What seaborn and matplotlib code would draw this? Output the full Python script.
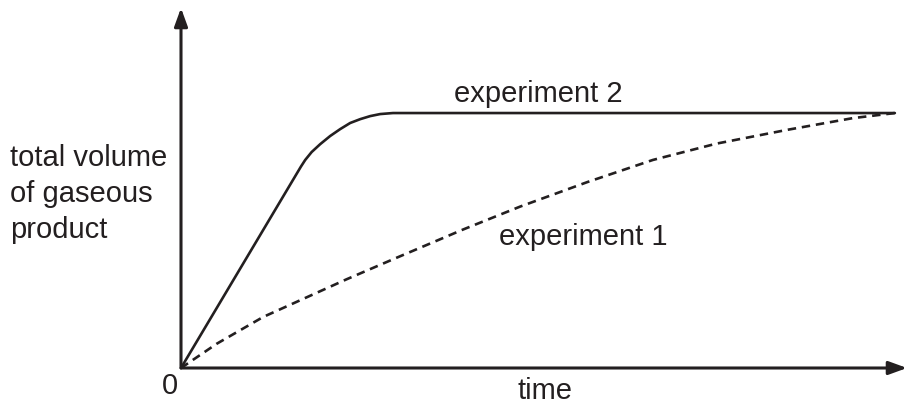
import pandas as pd
import matplotlib
matplotlib.use("Agg")
import matplotlib.pyplot as plt
import seaborn as sns

# values (arbitrary units, 0-100)
exp1_time = [0, 5, 11.5, 23.2, 30, 39.5, 47.5, 57, 66.1, 75, 84.9, 94.1, 100]
exp1_volume = [0, 9.5, 20, 34.8, 43, 54.3, 63.3, 73, 81.6, 88, 93.4, 98, 100]

exp2_time = [0, 16.8, 17.4, 18.3, 19.5, 20.9, 22.3, 23.7, 25.1, 26.5, 27.9, 29.7, 100]
exp2_volume = [0, 79, 81.6, 84.7, 87.8, 91.0, 93.7, 96.1, 97.6, 98.8, 99.6, 100, 100]

ink = "#231f20"

df = pd.concat([
    pd.DataFrame({"time": exp1_time, "volume": exp1_volume, "run": "experiment 1"}),
    pd.DataFrame({"time": exp2_time, "volume": exp2_volume, "run": "experiment 2"}),
], ignore_index=True)

sns.set_style("white")
plt.rcParams["font.family"] = ["Liberation Sans", "DejaVu Sans"]

fig = plt.figure(figsize=(9.07, 4.05), dpi=100)
ax = fig.add_axes([181 / 907, 37 / 405, 726 / 907, 360 / 405])

sns.lineplot(
    data=df, x="time", y="volume", style="run",
    dashes={"experiment 1": (3.2, 2.2), "experiment 2": ""},
    color=ink, linewidth=1.9, sort=False, estimator=None,
    legend=False, ax=ax,
)

ax.set_xlim(0, 101.7)
ax.set_ylim(0, 141.2)
ax.set_xticks([])
ax.set_yticks([])
ax.set_xlabel("")
ax.set_ylabel("")
for s in ax.spines.values():
    s.set_visible(False)

# axes drawn as arrows
arrow = dict(arrowstyle="-|>,head_length=1.1,head_width=0.4", color=ink,
             lw=2.2, shrinkA=0, shrinkB=0)
ax.annotate("", xy=(1, 0), xytext=(0, 0), xycoords="axes fraction",
            textcoords="axes fraction", arrowprops=arrow, annotation_clip=False)
ax.annotate("", xy=(0, 1), xytext=(0, 0), xycoords="axes fraction",
            textcoords="axes fraction", arrowprops=arrow, annotation_clip=False)

fs = 21
ax.text(50.0, 107.5, "experiment 2", fontsize=fs, color=ink, ha="center", va="center")
ax.text(56.4, 51.5, "experiment 1", fontsize=fs, color=ink, ha="center", va="center")

fig.text(10 / 907, 1 - 194 / 405, "total volume\nof gaseous\nproduct", fontsize=fs,
         color=ink, ha="left", va="center", linespacing=1.38)
fig.text(170 / 907, 1 - 386 / 405, "0", fontsize=fs, color=ink, ha="center", va="center")
fig.text(545 / 907, 1 - 391 / 405, "time", fontsize=fs, color=ink, ha="center", va="center")

fig.savefig("out.png", dpi=100, facecolor="white")
